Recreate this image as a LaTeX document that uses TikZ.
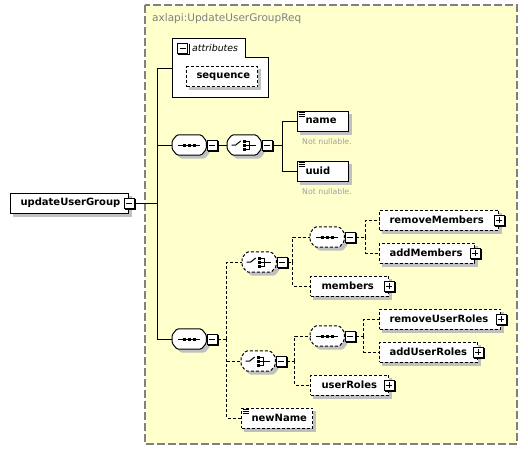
\documentclass[tikz,border=0pt]{standalone}
\usepackage{fontspec}
\setmainfont{DejaVu Sans}
\usetikzlibrary{calc}
\pgfdeclarelayer{bgyellow}
\pgfdeclarelayer{shad}
\pgfsetlayers{bgyellow,shad,main}
\definecolor{ybg}{HTML}{FFFFCC}
\definecolor{bordergray}{HTML}{808080}
\definecolor{shadowc}{HTML}{C0C0C0}
\definecolor{notegray}{HTML}{A0A0A0}
\tikzset{
  lbl/.style={font=\fontsize{10}{11}\selectfont\bfseries},
  elem/.style={draw=black, fill=white, line width=1pt, minimum height=20pt, inner xsep=0pt, inner ysep=0pt, anchor=west, align=left, lbl},
  optelem/.style={elem, dash pattern=on 3pt off 2pt},
  pmb/.style={draw=black, fill=white, line width=1pt, minimum size=10pt, inner sep=0pt},
  grp/.style={minimum width=34pt, minimum height=20pt, inner sep=0pt, anchor=west},
  conn/.style={line width=1pt},
  optconn/.style={line width=1pt, dash pattern=on 3pt off 2pt},
  note/.style={text=notegray, font=\fontsize{7.8}{9}\selectfont, anchor=west, inner sep=0pt},
}
\newcommand\shbox[1]{\begin{pgfonlayer}{shad}\fill[shadowc] ($(#1.north west)+(3,3)$) rectangle ($(#1.south east)+(3,3)$);\end{pgfonlayer}}
\newcommand\octo[2]{%
  \begin{pgfonlayer}{shad}
  \fill[shadowc, rounded corners=1.5pt, transform canvas={xshift=3.5pt,yshift=-3.5pt}] ($(#1.west)+(0,-4)$) -- ($(#1.north west)+(5,0)$) -- ($(#1.north east)+(-5,0)$) -- ($(#1.east)+(0,-4)$) -- ($(#1.east)+(0,4)$) -- ($(#1.south east)+(-5,0)$) -- ($(#1.south west)+(5,0)$) -- ($(#1.west)+(0,4)$) -- cycle;
  \end{pgfonlayer}
  \draw[#2, fill=white, rounded corners=1.5pt] ($(#1.west)+(0,-4)$) -- ($(#1.north west)+(5,0)$) -- ($(#1.north east)+(-5,0)$) -- ($(#1.east)+(0,-4)$) -- ($(#1.east)+(0,4)$) -- ($(#1.south east)+(-5,0)$) -- ($(#1.south west)+(5,0)$) -- ($(#1.west)+(0,4)$) -- cycle;
}
\newcommand\seqsym[1]{%
  \draw[line width=1pt] ($(#1.center)+(-11.5,0)$) -- ($(#1.center)+(11,0)$);
  \foreach \dx in {-5,0,5} \fill ($(#1.center)+(\dx-1.5,-1.5)$) rectangle +(3,3);
}
\newcommand\chsym[1]{%
  \draw[line width=1pt] ($(#1.center)+(-12.5,0)$) -- ($(#1.center)+(-8.5,0)$) -- ($(#1.center)+(-3.5,-4)$);
  \foreach \dy in {-4,0,4} \fill ($(#1.center)+(-1.5,\dy-1.5)$) rectangle +(3,3);
  \draw[line width=1pt] ($(#1.center)+(1.5,-4)$) -- ($(#1.center)+(5.5,-4)$) -- ($(#1.center)+(5.5,4)$) -- ($(#1.center)+(1.5,4)$);
  \draw[line width=1pt] ($(#1.center)+(1.5,0)$) -- ($(#1.center)+(11.5,0)$);
}
\newcommand\mns[1]{%
  \draw[line width=1pt] ($(#1.west)+(2.5,0)$) -- ($(#1.east)+(-2.5,0)$);
  \draw[line width=1pt] ($(#1.north east)+(1,1)$) -- ($(#1.south east)+(1,1)$) -- ($(#1.south west)+(1,1)$);
}
\newcommand\pls[1]{\mns{#1}\draw[line width=1pt] ($(#1.north)+(0,2.5)$) -- ($(#1.south)+(0,-2.5)$);}
\newcommand\eqicon[1]{\foreach \dy in {1.5,3.5,5.5} \draw[line width=0.9pt] ($(#1.north west)+(1.5,\dy)$) -- ++(6,0);}
\begin{document}
\begin{tikzpicture}[x=1pt,y=-1pt]
\useasboundingbox (0,0) rectangle (528,450);
\begin{pgfonlayer}{bgyellow}
\draw[fill=ybg, draw=bordergray, line width=1.2pt, dash pattern=on 8pt off 3pt] (145,5) rectangle (517,444);
\draw[fill=white, line width=1pt] (172,38) -- (245,38) -- (245,57) -- (268,57) -- (268,97) -- (172,97) -- cycle;
\end{pgfonlayer}
\node[anchor=west, inner sep=0pt, text=bordergray, font=\fontsize{10.5}{12}\selectfont] (title) at (152,19) {axlapi:UpdateUserGroupReq};

% attributes
\node[pmb] (am) at (182.5,48) {}; \mns{am}
\node[anchor=west, inner sep=0pt, font=\fontsize{9.4}{11}\selectfont\itshape] (attl) at (192,48) {attributes};
\node[optelem, text width=71pt] (seqa) at (186,76.5) {\hspace*{10pt}sequence}; \shbox{seqa}
\coordinate (attin) at (172,68);

% root
\node[elem, text width=118pt] (root) at (10,203) {\hspace*{10pt}updateUserGroup}; \shbox{root}
\node[pmb] (rm) at (root.east) {}; \mns{rm}
\coordinate (sp) at (157,203);

% top group
\node[grp] (s1) at (172,145) {}; \octo{s1}{conn} \seqsym{s1}
\node[pmb] (ms1) at ($(s1.east)+(6,0)$) {}; \mns{ms1}
\node[grp] (c1) at (227,145) {}; \octo{c1}{conn} \chsym{c1}
\node[pmb] (mc1) at ($(c1.east)+(6,0)$) {}; \mns{mc1}
\node[elem, text width=51pt] (name) at (297,121) {\hspace*{8pt}name}; \shbox{name} \eqicon{name}
\node[elem, text width=51pt] (uuid) at (297,171) {\hspace*{8pt}uuid}; \shbox{uuid} \eqicon{uuid}
\node[note] (n1) at (302,142) {Not nullable.};
\node[note] (n2) at (302,192) {Not nullable.};

% bottom group
\node[grp] (s2) at (172,339) {}; \octo{s2}{conn} \seqsym{s2}
\node[pmb] (ms2) at ($(s2.east)+(6,0)$) {}; \mns{ms2}

\node[grp] (c2) at (242,262) {}; \octo{c2}{optconn} \chsym{c2}
\node[pmb] (mc2) at ($(c2.east)+(6,0)$) {}; \mns{mc2}
\node[grp] (sM) at (310,237) {}; \octo{sM}{optconn} \seqsym{sM}
\node[pmb] (msM) at ($(sM.east)+(6,0)$) {}; \mns{msM}
\node[optelem, text width=119pt] (remM) at (379,220) {\hspace*{10pt}removeMembers}; \shbox{remM}
\node[pmb] (pRemM) at (remM.east) {}; \pls{pRemM}
\node[optelem, text width=95pt] (addM) at (379,253) {\hspace*{10pt}addMembers}; \shbox{addM}
\node[pmb] (pAddM) at (addM.east) {}; \pls{pAddM}
\node[optelem, text width=78pt] (mem) at (310,286) {\hspace*{11pt}members}; \shbox{mem}
\node[pmb] (pMem) at (mem.east) {}; \pls{pMem}

\node[grp] (c3) at (241,361) {}; \octo{c3}{optconn} \chsym{c3}
\node[pmb] (mc3) at ($(c3.east)+(6,0)$) {}; \mns{mc3}
\node[grp] (sR) at (310,336) {}; \octo{sR}{optconn} \seqsym{sR}
\node[pmb] (msR) at ($(sR.east)+(6,0)$) {}; \mns{msR}
\node[optelem, text width=121pt] (remR) at (379,319) {\hspace*{10pt}removeUserRoles}; \shbox{remR}
\node[pmb] (pRemR) at (remR.east) {}; \pls{pRemR}
\node[optelem, text width=98pt] (addR) at (379,352) {\hspace*{10pt}addUserRoles}; \shbox{addR}
\node[pmb] (pAddR) at (addR.east) {}; \pls{pAddR}
\node[optelem, text width=78pt] (uRoles) at (310,385) {\hspace*{11pt}userRoles}; \shbox{uRoles}
\node[pmb] (pURoles) at (uRoles.east) {}; \pls{pURoles}

\node[optelem, text width=71pt] (newName) at (241,418) {\hspace*{10pt}newName}; \shbox{newName} \eqicon{newName}

% connectors
\draw[conn] (rm.east) -- (sp);
\draw[conn] (sp) |- (attin);
\draw[conn] (sp) |- (s1.west);
\draw[conn] (sp) |- (s2.west);
\draw[conn] (ms1.east) -- (c1.west);
\coordinate (j1) at ($(mc1.east)+(10,0)$);
\draw[conn] (mc1.east) -- (j1);
\draw[conn] (j1) |- (name.west);
\draw[conn] (j1) |- (uuid.west);

\coordinate (j2) at ($(ms2.east)+(9,0)$);
\draw[optconn] (ms2.east) -- (j2);
\draw[optconn] (j2) |- (c2.west);
\draw[optconn] (j2) |- (newName.west);
\draw[optconn] (j2 |- c3.west) -- (c3.west);

\coordinate (j3) at ($(mc2.east)+(5,0)$);
\draw[optconn] (mc2.east) -- (j3);
\draw[optconn] (j3) |- (sM.west);
\draw[optconn] (j3) |- (mem.west);
\coordinate (j4) at ($(msM.east)+(10,0)$);
\draw[optconn] (msM.east) -- (j4);
\draw[optconn] (j4) |- (remM.west);
\draw[optconn] (j4) |- (addM.west);

\coordinate (j5) at ($(mc3.east)+(8,0)$);
\draw[optconn] (mc3.east) -- (j5);
\draw[optconn] (j5) |- (sR.west);
\draw[optconn] (j5) |- (uRoles.west);
\coordinate (j6) at ($(msR.east)+(8,0)$);
\draw[optconn] (msR.east) -- (j6);
\draw[optconn] (j6) |- (remR.west);
\draw[optconn] (j6) |- (addR.west);
\end{tikzpicture}
\end{document}
